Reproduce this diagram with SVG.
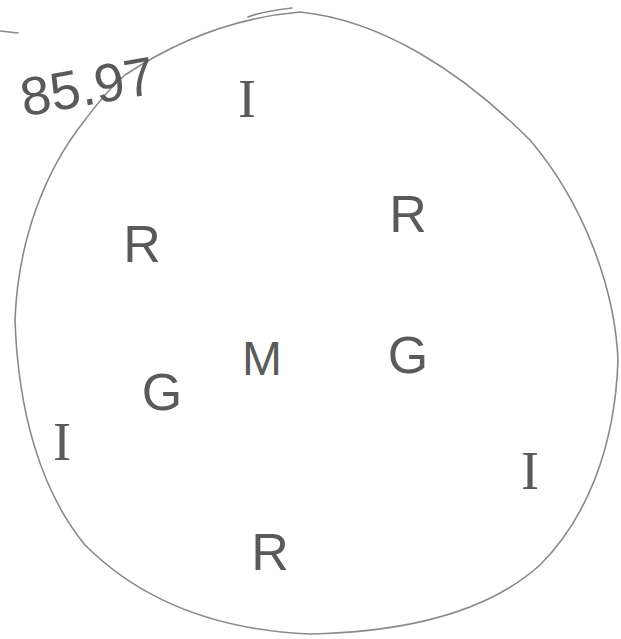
<svg xmlns="http://www.w3.org/2000/svg" width="621" height="639" viewBox="0 0 621 639">
<style>
.t{font-family:"Liberation Sans","DejaVu Sans",sans-serif;fill:#5a5a5a;text-anchor:middle;font-weight:normal}
.s{font-family:"Liberation Serif","DejaVu Serif",serif;fill:#5a5a5a;text-anchor:middle;font-size:54px}
.big{font-size:52px}
.line{fill:none;stroke:#8a8a8a;stroke-width:1.6;stroke-linecap:round}
</style>
<rect width="621" height="639" fill="#ffffff"/>
<g id="boundary">
<path class="line" d="M125 75 C170 45 230 18 300 12 C380 20 460 70 530 140 C585 205 615 290 618 360 C615 450 585 520 540 565 C490 610 410 632 310 634 C215 630 140 600 85 545 C40 490 18 410 15 320 C18 240 45 170 85 120 C100 100 112 86 125 75 Z"/>
<path class="line" d="M248 17 C260 12 275 10 292 8"/>
<path class="line" d="M0 31 L18 33"/>
</g>
<g id="label-8597"><text class="t" x="87" y="105" font-size="54" transform="rotate(-10 87 85)">85.97</text></g>
<g id="n-I-top"><text class="s" x="247" y="117">I</text></g>
<g id="n-R-left"><text class="t big" x="142" y="262">R</text></g>
<g id="n-R-right"><text class="t big" x="408" y="232">R</text></g>
<g id="n-G-left"><text class="t big" x="162" y="410">G</text></g>
<g id="n-M"><text class="t" x="262" y="375" font-size="48">M</text></g>
<g id="n-G-right"><text class="t big" x="408" y="373">G</text></g>
<g id="n-I-left"><text class="s" x="62" y="460">I</text></g>
<g id="n-I-right"><text class="s" x="530" y="489">I</text></g>
<g id="n-R-bottom"><text class="t big" x="270" y="570">R</text></g>
<g id="connectors"></g>
</svg>
